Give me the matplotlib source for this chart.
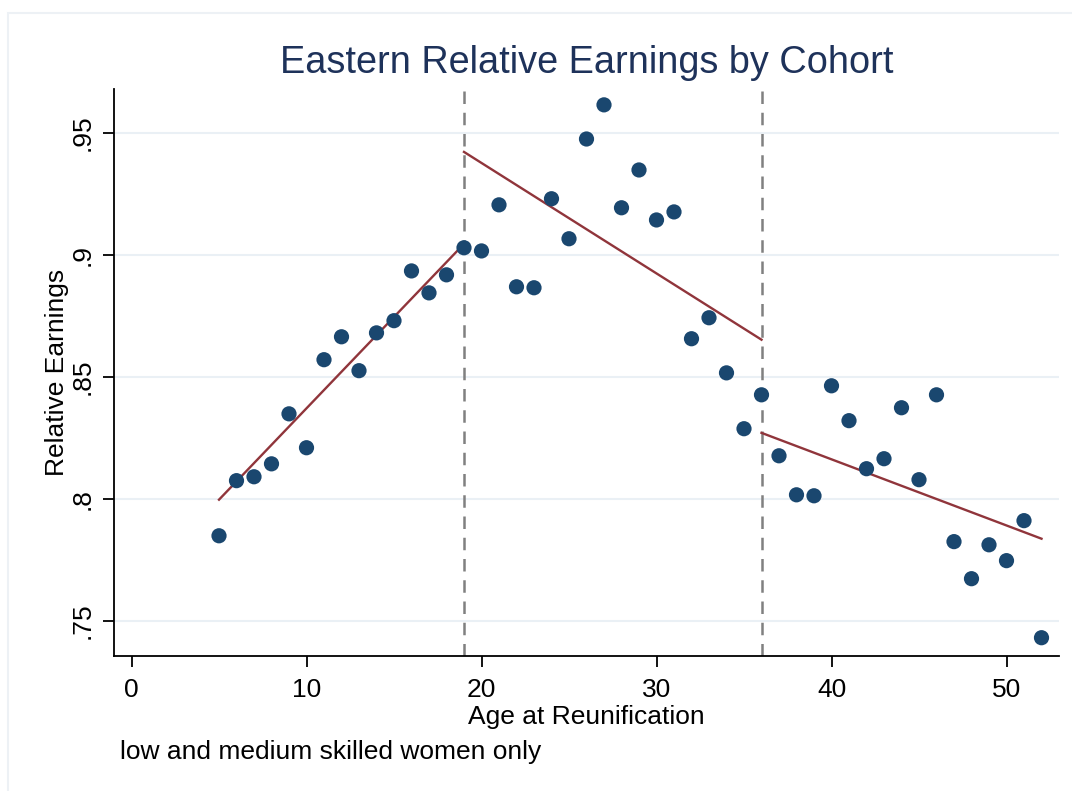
import matplotlib.pyplot as plt
from matplotlib.patches import Rectangle

plt.rcParams['font.family'] = ['Liberation Sans', 'DejaVu Sans']

# datos: edad en la reunificación y ganancias relativas
edad = [5, 6, 7, 8, 9, 10, 11, 12, 13, 14, 15, 16, 17, 18, 19, 20, 21, 22, 23, 24,
        25, 26, 27, 28, 29, 30, 31, 32, 33, 34, 35, 36, 37, 38, 39, 40, 41, 42, 43,
        44, 45, 46, 47, 48, 49, 50, 51, 52]
ganancias = [.7848, .8074, .8090, .8143, .8348, .8209, .8570, .8664, .8525, .8680,
             .8730, .8934, .8844, .8918, .9029, .9016, .9205, .8869, .8865, .9230,
             .9066, .9475, .9615, .9193, .9348, .9143, .9176, .8656, .8742, .8516,
             .8287, .8426, .8176, .8016, .8012, .8463, .8320, .8123, .8164, .8373,
             .8078, .8426, .7824, .7672, .7811, .7746, .7910, .7430]

# rectas ajustadas por tramo (extremos)
tramo1_x = [5, 19]
tramo1_y = [.7996, .9045]
tramo2_x = [19, 36]
tramo2_y = [.9422, .8652]
tramo3_x = [36, 52]
tramo3_y = [.8270, .7836]

cortes = [19, 36]

fig = plt.figure(figsize=(10.72, 7.91), dpi=100)
fig.patches.append(Rectangle((8 / 1072, -0.1), 1.2, 1 - 13 / 791 + 0.1,
                             transform=fig.transFigure, fill=False,
                             edgecolor='#edf1f5', linewidth=1.5))
ax = fig.add_axes([114 / 1072, 1 - 656 / 791, (1059 - 114) / 1072, (656 - 89) / 791])

for v in [.75, .8, .85, .9, .95]:
    ax.axhline(v, color='#eaf0f5', linewidth=1.5, zorder=0)

for c in cortes:
    ax.axvline(c, color='#808080', linestyle=(0, (5, 3.5)), linewidth=1.8, zorder=1)

ax.scatter(edad, ganancias, s=120, color='#1a476f', edgecolors='none', zorder=3)
ax.plot(tramo1_x, tramo1_y, color='#90353b', linewidth=1.7, zorder=2)
ax.plot(tramo2_x, tramo2_y, color='#90353b', linewidth=1.7, zorder=2)
ax.plot(tramo3_x, tramo3_y, color='#90353b', linewidth=1.7, zorder=2)

ax.set_xlim(-1, 53)
ax.set_ylim(.7355, .968)
ax.set_xticks([0, 10, 20, 30, 40, 50])
ax.set_yticks([.75, .8, .85, .9, .95])
ax.set_yticklabels(['.75', '.8', '.85', '.9', '.95'], rotation=90, va='center')
ax.tick_params(labelsize=19, length=8, width=1.3, color='black')
ax.tick_params(axis='x', pad=8)
ax.tick_params(axis='y', pad=6)

for s in ['top', 'right']:
    ax.spines[s].set_visible(False)
for s in ['left', 'bottom']:
    ax.spines[s].set_linewidth(1.3)

ax.set_xlabel('Age at Reunification', fontsize=19, labelpad=2)
ax.set_ylabel('Relative Earnings', fontsize=19, labelpad=1)
fig.suptitle('Eastern Relative Earnings by Cohort', fontsize=27.3, color='#1e325a',
             x=587 / 1072, y=1 - 63 / 791, va='center')
fig.text(120 / 1072, 1 - 752 / 791, 'low and medium skilled women only',
         fontsize=19, va='center', ha='left')

fig.savefig('out.png', dpi=100)
